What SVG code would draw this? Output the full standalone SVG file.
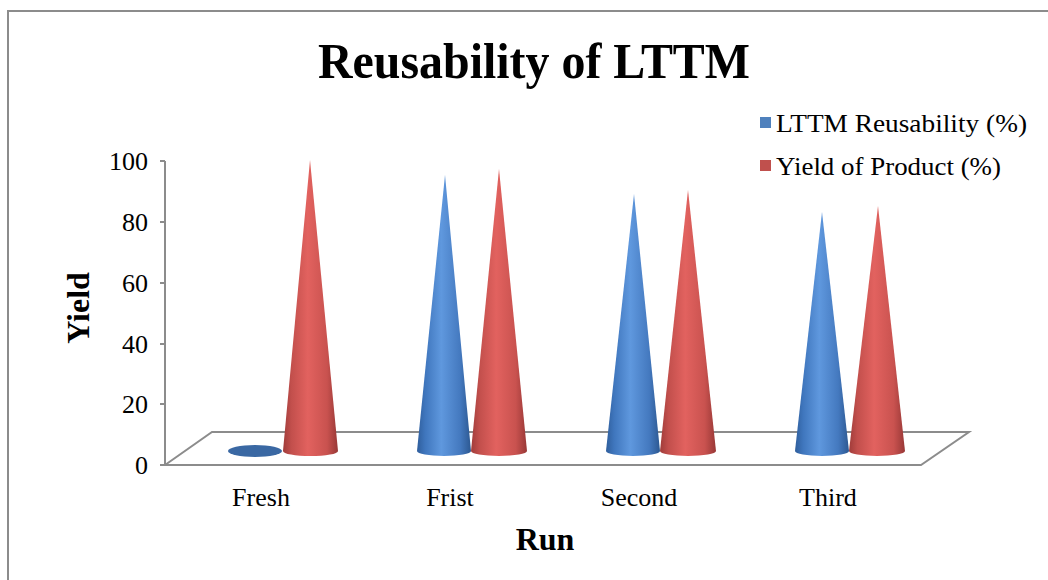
<svg xmlns="http://www.w3.org/2000/svg" width="1048" height="580" viewBox="0 0 1048 580">
<style>
.t{font-family:"Liberation Serif","Times New Roman",serif;fill:#000}
.ax{stroke:#8c8c8c;stroke-width:2;fill:none}
.lab{font-size:26px}
</style>
<defs>
<linearGradient id="gb" x1="0" y1="0" x2="1" y2="0">
<stop offset="0" stop-color="#2f5e9c"/>
<stop offset="0.15" stop-color="#3f76bd"/>
<stop offset="0.45" stop-color="#5f98de"/>
<stop offset="0.8" stop-color="#4479bf"/>
<stop offset="1" stop-color="#2c5891"/>
</linearGradient>
<linearGradient id="gr" x1="0" y1="0" x2="1" y2="0">
<stop offset="0" stop-color="#a03c3a"/>
<stop offset="0.15" stop-color="#c24f4c"/>
<stop offset="0.45" stop-color="#e2625f"/>
<stop offset="0.8" stop-color="#c9524f"/>
<stop offset="1" stop-color="#983836"/>
</linearGradient>
</defs>
<rect x="0" y="0" width="1048" height="580" fill="#fff"/>
<rect x="8" y="11" width="1060" height="590" fill="none" stroke="#8c8c8c" stroke-width="2"/>
<text class="t" x="318" y="78" font-size="50" font-weight="bold" textLength="432" lengthAdjust="spacingAndGlyphs">Reusability of LTTM</text>
<g id="axis">
<line class="ax" x1="165" y1="161" x2="165" y2="465"/>
<path class="ax" d="M160 161H165M160 222H165M160 283H165M160 344H165M160 404H165M160 465H165"/>
<g class="t lab" text-anchor="end">
<text x="148" y="170">100</text>
<text x="148" y="231">80</text>
<text x="148" y="292">60</text>
<text x="148" y="353">40</text>
<text x="148" y="413">20</text>
<text x="148" y="474">0</text>
</g>
<text class="t" font-size="32" font-weight="bold" text-anchor="middle" transform="translate(89,308) rotate(-90)">Yield</text>
</g>
<g id="floor">
<path class="ax" d="M165 465L212 432H969L921 465Z"/>
</g>
<g id="fresh">
<ellipse cx="255" cy="451" rx="27" ry="6" fill="#3a68a3"/>
<path d="M310 160L283 451A27 5 0 0 0 338 451Z" fill="url(#gr)"/>
</g>
<g id="frist">
<path d="M445 175L417 451A27 5 0 0 0 471 451Z" fill="url(#gb)"/>
<path d="M499 169L471 451A28 5 0 0 0 527 451Z" fill="url(#gr)"/>
</g>
<g id="second">
<path d="M634 194L606 451A27 5 0 0 0 660 451Z" fill="url(#gb)"/>
<path d="M688 190L660 451A28 5 0 0 0 716 451Z" fill="url(#gr)"/>
</g>
<g id="third">
<path d="M822 212L795 451A27 5 0 0 0 849 451Z" fill="url(#gb)"/>
<path d="M878 206L849 451A28 5 0 0 0 905 451Z" fill="url(#gr)"/>
</g>
<g id="categories" class="t lab" text-anchor="middle">
<text x="261" y="506">Fresh</text>
<text x="450" y="506">Frist</text>
<text x="639" y="506">Second</text>
<text x="828" y="506">Third</text>
</g>
<text class="t" x="545" y="550" font-size="32" font-weight="bold" text-anchor="middle">Run</text>
<g id="legend">
<rect x="760" y="117" width="11" height="11" fill="#4f81bd"/>
<text class="t" x="776" y="132" font-size="25" textLength="251" lengthAdjust="spacingAndGlyphs">LTTM Reusability (%)</text>
<rect x="760" y="160" width="11" height="11" fill="#c0504d"/>
<text class="t" x="776" y="175" font-size="25" textLength="225" lengthAdjust="spacingAndGlyphs">Yield of Product (%)</text>
</g>
</svg>
